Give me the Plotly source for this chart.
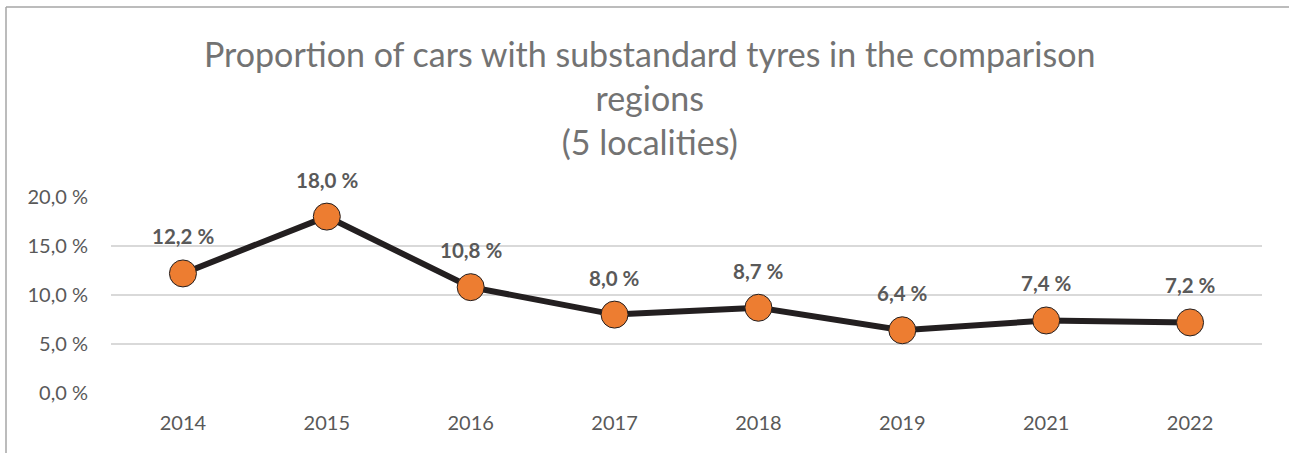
import plotly.graph_objects as go

years = ["2014", "2015", "2016", "2017", "2018", "2019", "2021", "2022"]
share = [12.2, 18.0, 10.8, 8.0, 8.7, 6.4, 7.4, 7.2]
y_ticks = [0, 5, 10, 15, 20]
y_tick_text = ["0,0 %", "5,0 %", "10,0 %", "15,0 %", "20,0 %"]
title_lines = ["Proportion of cars with substandard tyres in the comparison",
               "regions", "(5 localities)"]

def fmt(v):
    return f"{v:.1f}".replace(".", ",") + " %"

FONT = "Lato"
GREY = "#595959"

W, H = 1289, 453
PL, PR, PT, PB = 111, 1262, 197, 393  # plot area in pixels

def px_x(p):
    return (p - PL) / (PR - PL)

def px_y(p):
    return (PB - p) / (PB - PT)

fig = go.Figure()
fig.add_trace(go.Scatter(
    x=years, y=share, mode="lines+markers",
    line=dict(color="#231f20", width=6),
    marker=dict(size=27, color="#ED7D31", line=dict(color="#231f20", width=1)),
    hoverinfo="skip", showlegend=False, cliponaxis=False,
))

annotations = []
for i, v in enumerate(share):
    annotations.append(dict(
        x=i, y=v, xref="x", yref="y", text="<b>" + fmt(v) + "</b>",
        showarrow=False, yshift=37,
        font=dict(family=FONT, size=20.5, color=GREY),
    ))

annotations.append(dict(
    x=px_x(649), y=px_y(97), xref="paper", yref="paper",
    xanchor="center", yanchor="middle", align="center",
    text="<br>".join(title_lines), showarrow=False,
    font=dict(family=FONT, size=34, color="#737373"),
))

fig.update_layout(
    width=W, height=H,
    margin=dict(l=PL, r=W - PR, t=PT, b=H - PB),
    paper_bgcolor="white", plot_bgcolor="white",
    xaxis=dict(type="category", range=[-0.5, len(years) - 0.5],
               showgrid=False, showline=False, zeroline=False, ticks="",
               tickfont=dict(family=FONT, size=20, color=GREY),
               ticklabelstandoff=16),
    yaxis=dict(range=[0, 20], tickvals=y_ticks, ticktext=y_tick_text,
               showgrid=True, gridcolor="#d9d9d9", gridwidth=1.5,
               zeroline=False, showline=False, ticks="",
               tickfont=dict(family=FONT, size=20, color=GREY),
               ticklabelstandoff=22),
    annotations=annotations,
    shapes=[
        dict(type="line", xref="paper", yref="paper",
             x0=px_x(6), x1=px_x(W + 5), y0=px_y(7), y1=px_y(7),
             line=dict(color="#a6a6a6", width=1.5)),
        dict(type="line", xref="paper", yref="paper",
             x0=px_x(6), x1=px_x(6), y0=px_y(7), y1=px_y(H + 5),
             line=dict(color="#a6a6a6", width=1.5)),
    ],
)

fig.write_html("out.html",
               config={"displayModeBar": False},
               post_script="document.body.style.margin='0';")
